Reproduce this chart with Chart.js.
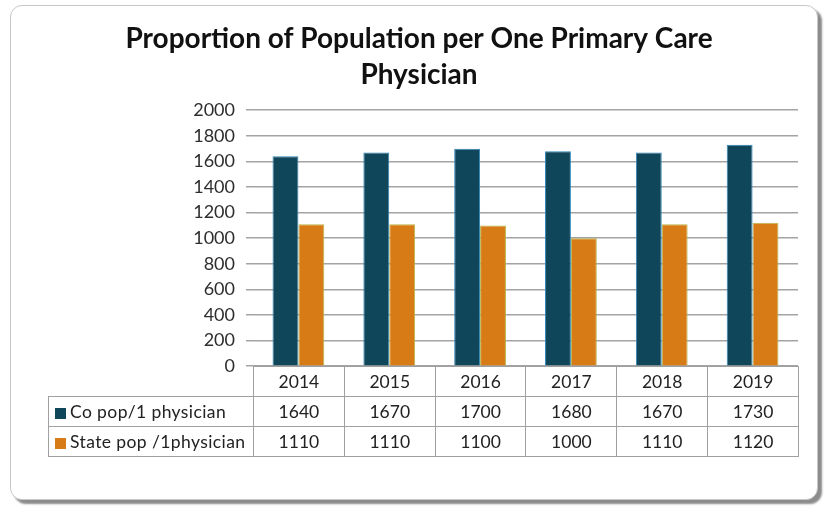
<!DOCTYPE html>
<html>
<head>
<meta charset="utf-8">
<script src="https://cdn.jsdelivr.net/npm/chart.js@4.4.1/dist/chart.umd.min.js"></script>
<style>
    body { margin: 0; background: #ffffff; font-family: Lato, "Open Sans", sans-serif; }
    #marco {
        position: absolute; left: 10px; top: 5px; width: 806px; height: 493px;
        border: 1px solid #c8c8c8; border-radius: 12px;
        box-shadow: 4px 4px 2px #8c8c8c;
        background: #fff;
    }
    #grafica { position: absolute; left: 0; top: 0; }
    #tablaDatos {
        position: absolute; border-collapse: collapse; font-size: 17.5px; color: #222;
    }
    #tablaDatos td { border: 1px solid #a0a0a0; height: 29px; padding: 0; text-align: center; }
    #tablaDatos td.serie { text-align: left; padding-left: 6px; white-space: nowrap; letter-spacing: 0.4px; }
    #tablaDatos td.vacio { border: none; border-right: 1px solid #a0a0a0; }
    .muestra { display: inline-block; width: 11px; height: 11px; margin-right: 4px; vertical-align: -1px; }
</style>
</head>
<body>
<div id="marco"></div>
<canvas id="grafica" width="830" height="388"></canvas>
<table id="tablaDatos"></table>
<script>
// Datos del gráfico
const anios = ["2014", "2015", "2016", "2017", "2018", "2019"];
const coPop = [1640, 1670, 1700, 1680, 1670, 1730];
const statePop = [1110, 1110, 1100, 1000, 1110, 1120];
const nombresSeries = ["Co pop/1 physician", "State pop /1physician"];
const tituloLineas = ["Proportion of Population per One Primary Care", "Physician"];
const ejeY = { min: 0, max: 2000, paso: 200 };

const colores = ["#10465a", "#d77b17"];
const bordes = ["#2f86b8", "#b9b54a"];

const ctx = document.getElementById("grafica");

const grafica = new Chart(ctx, {
    type: "bar",
    data: {
        labels: anios,
        datasets: [
            {
                label: nombresSeries[0],
                data: coPop,
                backgroundColor: colores[0],
                borderColor: bordes[0],
                borderWidth: 1
            },
            {
                label: nombresSeries[1],
                data: statePop,
                backgroundColor: colores[1],
                borderColor: bordes[1],
                borderWidth: 1
            }
        ]
    },
    options: {
        responsive: false,
        animation: false,
        layout: { padding: { left: 40, right: 32, top: 0, bottom: 4 } },
        plugins: {
            legend: { display: false },
            tooltip: { enabled: false },
            title: {
                display: true,
                text: tituloLineas,
                color: "#111",
                font: { family: "Lato", size: 28, weight: "bold", lineHeight: 1.29 },
                padding: { top: 21, bottom: 17 }
            }
        },
        datasets: {
            bar: { categoryPercentage: 0.57, barPercentage: 1 }
        },
        scales: {
            x: {
                display: false
            },
            y: {
                min: ejeY.min,
                max: ejeY.max,
                afterFit: s => { s.width = 213; },
                border: { display: false },
                grid: { color: "#a4a4a4", lineWidth: 1.5, tickLength: 7 },
                ticks: {
                    stepSize: ejeY.paso,
                    color: "#2e2e2e",
                    padding: 11,
                    font: { family: "Lato", size: 18 },
                    callback: v => String(v)
                }
            }
        }
    }
});

// Tabla de datos alineada con el área del gráfico
const area = grafica.chartArea;
const tabla = document.getElementById("tablaDatos");
const anchoCol = (area.right - area.left) / anios.length;
const anchoSerie = area.left - 48;
tabla.style.left = "48px";
tabla.style.top = Math.round(area.bottom) + "px";
tabla.style.width = (area.right - 48) + "px";

const colgroup = `<colgroup><col style="width:${anchoSerie}px">` +
    anios.map(() => `<col style="width:${anchoCol}px">`).join("") + "</colgroup>";
const filaAnios = `<tr><td class="vacio"></td>${anios.map(a => `<td>${a}</td>`).join("")}</tr>`;
const filasSeries = [coPop, statePop]
    .map((serie, i) => `
        <tr>
            <td class="serie"><span class="muestra" style="background:${colores[i]}"></span>${nombresSeries[i]}</td>
            ${serie.map(v => `<td>${v}</td>`).join("")}
        </tr>`)
    .join("");
tabla.style.tableLayout = "fixed";
tabla.innerHTML = colgroup + filaAnios + filasSeries;
</script>
</body>
</html>
